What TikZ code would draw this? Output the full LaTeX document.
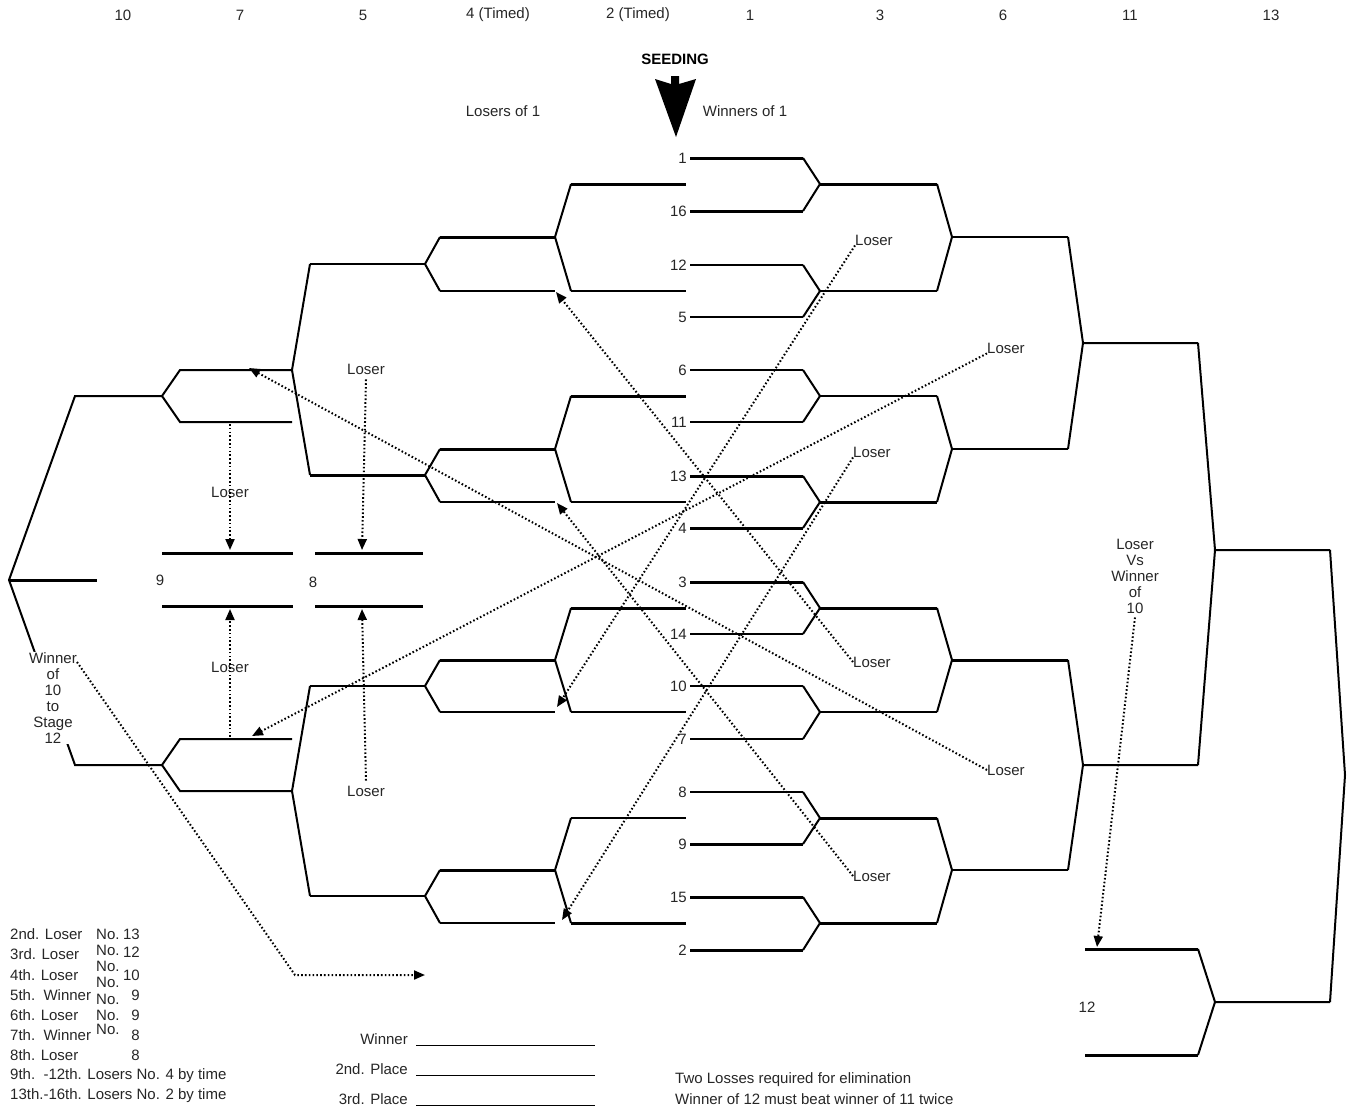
\documentclass[tikz,border=0pt]{standalone}
\usepackage{fontspec}
\setmainfont{Liberation Sans}
\usetikzlibrary{arrows.meta}

\tikzset{
  heavy/.style={line width=3pt},
  light/.style={line width=2pt},
  loser/.style={line width=2pt, dash pattern=on 1.6pt off 2.2pt, -{Triangle[length=11pt,width=9pt]}},
  lbl/.style={inner sep=0pt, text=black!85, font=\fontsize{15}{16}\selectfont},
}

\begin{document}
\begin{tikzpicture}[x=1pt,y=-1pt]
  \useasboundingbox (0,0) rectangle (1351,1112);

  \foreach \x/\t in {123/10,240/7,363/5,498/4 (Timed),638/2 (Timed),750/1,880/3,1003/6,1130/11,1271/13}
    \node[lbl] (hd\x) at (\x,15) {\t};
  \node[lbl, text=black, font=\bfseries\fontsize{15}{16}\selectfont] (seeding) at (675,59) {SEEDING};
  \fill (671,76) -- (679,76) -- (679,84) -- (696,79) -- (676,137) -- (655,79) -- (671,84) -- cycle;
  \node[lbl] (los1) at (503,111) {Losers of 1};
  \node[lbl] (win1) at (745,111) {Winners of 1};

  % winners side
  \foreach \n/\y/\w in {1/158/3,16/211/3,12/265/2.3,5/317/2,6/370/2.3,11/422/2,13/476/3,4/528/3,3/582/3,14/634/2,10/686/2.3,7/739/2,8/792/2,9/844/3,15/897/3,2/950/3} {
    \node[lbl, anchor=east] (s\n) at (687,\y) {\n};
    \draw[line width=\w pt] ([xshift=3pt]s\n.east) -- (803,\y);
  }
  \foreach \a/\m/\b in {158/184/211,265/291/317,370/396/422,476/502/528,582/608/634,686/712/739,792/818/844,897/923/950}
    \draw[light] (803,\a) -- (820,\m) -- (803,\b);
  \foreach \y/\w in {184/3,291/2,396/2,502/3,608/3,712/2,818/3,923/3}
    \draw[line width=\w pt] (820,\y) -- (937,\y);
  \foreach \a/\m/\b in {184/237/291,396/449/502,608/660/712,818/870/923}
    \draw[light] (937,\a) -- (952,\m) -- (937,\b);
  \foreach \y/\w in {237/2,449/2,660/3,870/2}
    \draw[line width=\w pt] (952,\y) -- (1068,\y);
  \foreach \a/\m/\b in {237/343/449,660/765/870}
    \draw[light] (1068,\a) -- (1083,\m) -- (1068,\b) (1083,\m) -- (1198,\m);
  \draw[light] (1198,343) -- (1215,550) -- (1198,765) (1215,550) -- (1330,550);
  \draw[light] (1330,550) -- (1345,775) -- (1330,1002);
  \draw[heavy] (1085,949) -- (1198,949) (1085,1055) -- (1198,1055);
  \draw[light] (1198,949) -- (1215,1002) -- (1198,1055) (1215,1002) -- (1330,1002);
  \node[lbl] (st12) at (1087,1007) {12};

  % losers side
  \foreach \y/\w in {184/3,291/2,396/3,502/2,608/3,712/2,818/2,923/3}
    \draw[line width=\w pt] (571,\y) -- (686,\y);
  \foreach \a/\m/\b in {184/237/291,396/449/502,608/660/712,818/870/923}
    \draw[light] (571,\a) -- (555,\m) -- (571,\b);
  \foreach \y/\w in {237/3,291/2,449/3,502/2,660/3,712/2,870/3,923/2}
    \draw[line width=\w pt] (440,\y) -- (555,\y);
  \foreach \a/\m/\b in {237/264/291,449/475/502,660/686/712,870/896/923}
    \draw[light] (440,\a) -- (425,\m) -- (440,\b);
  \foreach \y/\w in {264/2,475/3,686/2,896/2}
    \draw[line width=\w pt] (310,\y) -- (425,\y);
  \foreach \a/\m/\b in {264/370/475,686/791/896}
    \draw[light] (310,\a) -- (292,\m) -- (310,\b);
  \foreach \a/\m/\b in {370/396/422,739/765/791}
    \draw[light] (292,\a) -- (180,\a) -- (162,\m) -- (180,\b) -- (292,\b);
  \draw[light] (162,396) -- (75,396) -- (9,580) -- (75,765) -- (162,765);
  \draw[heavy] (9,580) -- (97,580);
  \foreach \y in {553,606}
    \draw[heavy] (162,\y) -- (293,\y) (315,\y) -- (423,\y);
  \node[lbl] (st9) at (160,580) {9};
  \node[lbl] (st8) at (313,582) {8};
  \node[lbl, fill=white, inner sep=1pt, align=center] (w10) at (53,698) {Winner\\of\\10\\to\\Stage\\12};

  % losers dropping down
  \coordinate (t1) at (557,707);
  \coordinate (t2) at (562,920);
  \coordinate (t3) at (252,736);
  \coordinate (t4) at (249,368);
  \coordinate (t5) at (556,292);
  \coordinate (t6) at (557,503);
  \node[lbl, anchor=west] (ls1) at (855,240) {Loser};
  \node[lbl, anchor=west] (ls2) at (853,452) {Loser};
  \node[lbl, anchor=west] (ls3) at (987,348) {Loser};
  \node[lbl, anchor=west] (ls4) at (987,770) {Loser};
  \node[lbl, anchor=west] (ls5) at (853,662) {Loser};
  \node[lbl, anchor=west] (ls6) at (853,876) {Loser};
  \draw[loser] (ls1.south west) -- (t1);
  \draw[loser] (ls2.south west) -- (t2);
  \draw[loser] (ls3.south west) -- (t3);
  \draw[loser] (ls4.west) -- (t4);
  \draw[loser] (ls5.west) -- (t5);
  \draw[loser] (ls6.west) -- (t6);

  \coordinate (l7) at (230,424);
  \coordinate (l7b) at (230,737);
  \coordinate (t9a) at (230,550);
  \coordinate (t9b) at (230,609);
  \coordinate (t8a) at (362,550);
  \coordinate (t8b) at (362,609);
  \node[lbl] (lv1) at (230,492) {Loser};
  \node[lbl] (lv2) at (230,667) {Loser};
  \node[lbl] (lv3) at (366,369) {Loser};
  \node[lbl] (lv4) at (366,791) {Loser};
  \draw[loser] (l7) -- (t9a);
  \draw[loser] (l7b) -- (t9b);
  \draw[loser] ([yshift=-5pt]lv3.south) -- (t8a);
  \draw[loser] ([yshift=5pt]lv4.north) -- (t8b);

  \node[lbl, align=center] (lvs) at (1135,576) {Loser\\Vs\\Winner\\of\\10};
  \coordinate (t12) at (1097,947);
  \draw[loser] ([yshift=-4pt]lvs.south) -- (t12);

  \coordinate (w10s) at (77,662);
  \coordinate (t12b) at (425,975);
  \draw[loser] (w10s) -- (295,975) -- (t12b);

  % placings
  \foreach \t/\y [count=\i] in {2nd. Loser/934,3rd. Loser/954,4th. Loser/975,5th.\ \ Winner/995,6th. Loser/1015,7th.\ \ Winner/1035,8th. Loser/1055,9th.\ \ -12th. Losers No. 4 by time/1076,13th.-16th. Losers No. 2 by time/1096}
    \node[lbl, anchor=west] (leg\i) at (10,\y) {\t};
  \foreach \y [count=\i] in {934,950,966,982,999,1015,1029}
    \node[lbl, anchor=west] (no\i) at (96,\y) {No.};
  \foreach \t/\y [count=\i] in {13/934,12/952,10/975,9/995,9/1015,8/1035,8/1055}
    \node[lbl, anchor=east] (nr\i) at (140,\y) {\t};

  \foreach \t/\y [count=\i] in {Winner/1039,2nd. Place/1069,3rd. Place/1099} {
    \node[lbl, anchor=east] (pl\i) at (408,\y) {\t};
    \draw[line width=1pt] ([xshift=8pt,yshift=-1pt]pl\i.base east) -- ++(179,0);
  }

  \node[lbl, anchor=west] (note1) at (675,1080) {Two Losses required for elimination};
  \node[lbl, anchor=west] (note2) at (675,1099) {Winner of 12 must beat winner of 11 twice};
\end{tikzpicture}
\end{document}
